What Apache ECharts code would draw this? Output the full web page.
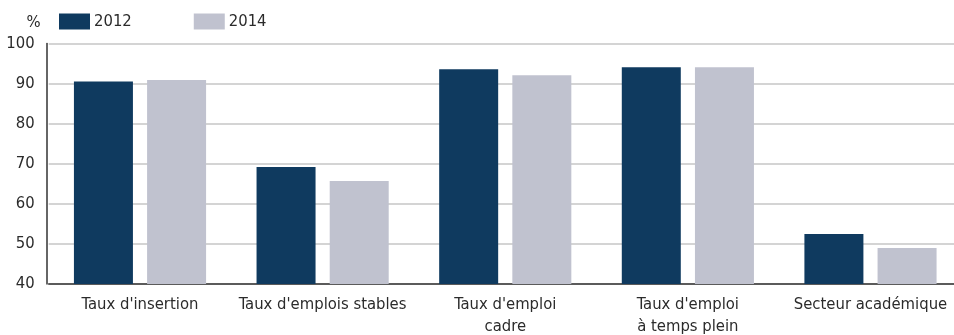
<!DOCTYPE html>
<html>
<head>
<meta charset="utf-8">
<script src="https://cdn.jsdelivr.net/npm/echarts@6/dist/echarts.min.js"></script>
<style>
  html, body { margin: 0; padding: 0; background: #fff; }
  #chart { width: 954px; height: 335px; }
</style>
</head>
<body>
<div id="chart"></div>
<script>
// Indicateurs d'insertion (en %), promotions 2012 et 2014
const categories = [
  "Taux d'insertion",
  "Taux d'emplois stables",
  "Taux d'emploi\ncadre",
  "Taux d'emploi\nà temps plein",
  "Secteur académique"
];
const seriesNames = ["2012", "2014"];
const values2012 = [90.5, 69.2, 93.6, 94.1, 52.5];
const values2014 = [90.9, 65.7, 92.1, 94.1, 49.0];
const yTicks = { min: 40, max: 100, interval: 10 };

const FONT = '"Liberation Sans Narrow", "DejaVu Sans Condensed", "Roboto", sans-serif';
const TEXT = '#2b2b2b';

const chart = echarts.init(document.getElementById('chart'), null, { renderer: 'canvas' });
chart.setOption({
  animation: false,
  textStyle: { fontFamily: FONT, color: TEXT },
  legend: {
    left: 59,
    top: 13,
    padding: 0,
    itemWidth: 31,
    itemHeight: 16,
    itemGap: 62,
    icon: 'rect',
    textStyle: { fontFamily: FONT, fontSize: 16.5, color: TEXT, padding: [2, 0, 0, -1] },
    data: seriesNames
  },
  // plot area runs slightly past the right edge of the canvas
  grid: { left: 48.7, right: -7.8, top: 43.5, bottom: 51, containLabel: false, outerBoundsMode: 'none' },
  xAxis: {
    type: 'category',
    data: categories,
    axisTick: { show: false },
    axisLine: { show: true, lineStyle: { color: '#333', width: 1.5 } },
    axisLabel: {
      fontFamily: FONT, fontSize: 16.5, color: TEXT,
      margin: 10, lineHeight: 22, interval: 0
    }
  },
  yAxis: {
    type: 'value',
    min: yTicks.min,
    max: yTicks.max,
    interval: yTicks.interval,
    offset: 2,
    name: '%',
    nameLocation: 'end',
    nameGap: 12,
    nameTextStyle: { fontFamily: FONT, fontSize: 16.5, color: TEXT, align: 'right', padding: [0, 6, 0, 0] },
    axisLine: { show: true, lineStyle: { color: '#333', width: 1.5 } },
    axisTick: { show: false },
    axisLabel: { fontFamily: FONT, fontSize: 16.5, color: TEXT, margin: 12 },
    splitLine: { show: true, lineStyle: { color: '#c6c6c6', width: 1.5 } }
  },
  series: [
    {
      name: seriesNames[0],
      type: 'bar',
      data: values2012,
      barWidth: 59,
      barGap: '24%',
      itemStyle: { color: '#0f3a5f' }
    },
    {
      name: seriesNames[1],
      type: 'bar',
      data: values2014,
      barWidth: 59,
      barGap: '24%',
      itemStyle: { color: '#c0c2cf' }
    }
  ]
});
</script>
</body>
</html>
